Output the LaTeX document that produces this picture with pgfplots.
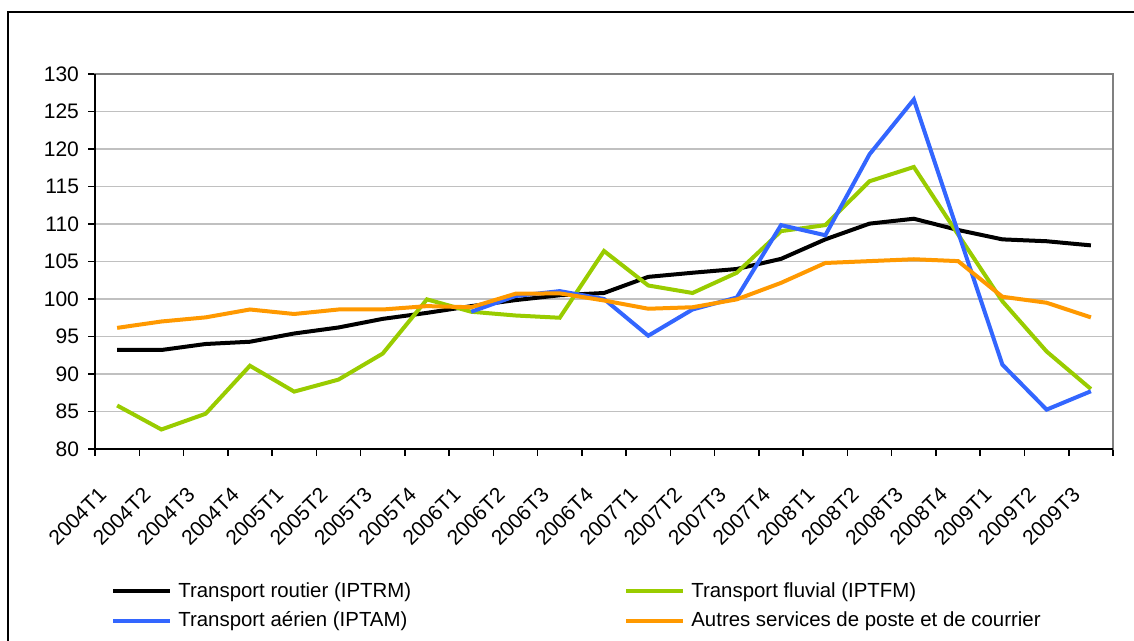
\documentclass[border=0pt]{standalone}
\usepackage{fontspec}
\setmainfont{Liberation Sans}
\usepackage{pgfplots}
\pgfplotsset{compat=1.18}
\definecolor{cgreen}{HTML}{99CC00}
\definecolor{cblue}{HTML}{3366FF}
\definecolor{corange}{HTML}{FF9900}
\definecolor{cgrid}{HTML}{C0C0C0}
\definecolor{cframe}{HTML}{808080}
\begin{document}
\begin{tikzpicture}
\useasboundingbox (-47.5pt,-96pt) rectangle (519.5pt,224.5pt);
\draw[line width=0.75pt] (-43.5pt,-120pt) -- (-43.5pt,218.5pt) -- (540pt,218.5pt);
\begin{axis}[
  at={(0pt,0pt)}, anchor=south west,
  scale only axis, width=509pt, height=187.5pt,
  clip=false,
  xmin=-0.5, xmax=22.5, ymin=80, ymax=130,
  ytick={80,85,...,130},
  xtick={-0.5,0.5,...,22.5},
  xticklabel={\mbox{}},
  extra x ticks={0,1,...,22},
  extra x tick labels={2004T1,2004T2,2004T3,2004T4,2005T1,2005T2,2005T3,2005T4,2006T1,2006T2,2006T3,2006T4,2007T1,2007T2,2007T3,2007T4,2008T1,2008T2,2008T3,2008T4,2009T1,2009T2,2009T3},
  extra x tick style={major tick length=0pt, tick label style={rotate=45, anchor=north east, inner sep=0pt, xshift=-19.9pt, yshift=-5.9pt}},
  tick align=outside,
  tick pos=left,
  major tick length=3.5pt,
  tick style={black, line width=0.75pt},
  ymajorgrids,
  grid style={cgrid, line width=0.75pt},
  axis line style={cframe, line width=0.75pt},
  /pgf/number format/assume math mode=true,
  tick label style={font=\fontsize{10.5}{12}\selectfont},
  yticklabel style={xshift=-1pt},
  legend columns=2,
  legend cell align=left,
  legend style={draw=none, fill=none, inner sep=0pt, at={(0.0157,-0.355)}, anchor=north west,
    font=\fontsize{10.2}{12}\selectfont, row sep=5.8pt,
    nodes={inner sep=0pt},
    /tikz/every odd column/.append style={column sep=3pt},
    /tikz/every even column/.append style={column sep=0pt}},
  legend image code/.code={\draw[#1, line width=2pt] (0pt,0pt) -- (28.5pt,0pt);},
]
\addplot[black, line width=2pt] coordinates {
(0,93.2) (1,93.2) (2,94.0) (3,94.3) (4,95.4) (5,96.2) (6,97.35) (7,98.15)
(8,99.05) (9,99.85) (10,100.5) (11,100.8) (12,102.95) (13,103.5) (14,104.0) (15,105.35)
(16,107.95) (17,110.05) (18,110.7) (19,109.2) (20,107.95) (21,107.7) (22,107.15)};
\addlegendentry{\makebox[223pt][l]{Transport routier (IPTRM)}}
\addplot[cgreen, line width=2pt] coordinates {
(0,85.8) (1,82.6) (2,84.7) (3,91.1) (4,87.65) (5,89.25) (6,92.72) (7,99.95)
(8,98.3) (9,97.8) (10,97.5) (11,106.4) (12,101.8) (13,100.8) (14,103.5) (15,109.05)
(16,109.85) (17,115.7) (18,117.6) (19,108.6) (20,99.7) (21,93.0) (22,88.0)};
\addlegendentry{Transport fluvial (IPTFM)}
\addplot[cblue, line width=2pt] coordinates {
(8,98.3) (9,100.4) (10,101.05) (11,100.0) (12,95.1) (13,98.6) (14,100.2) (15,109.85)
(16,108.5) (17,119.3) (18,126.6) (19,108.9) (20,91.25) (21,85.25) (22,87.7)};
\addlegendentry{\makebox[223pt][l]{Transport aérien (IPTAM)}}
\addplot[corange, line width=2pt] coordinates {
(0,96.15) (1,97.0) (2,97.55) (3,98.6) (4,98.0) (5,98.6) (6,98.6) (7,99.05)
(8,98.9) (9,100.7) (10,100.75) (11,99.8) (12,98.7) (13,98.9) (14,99.95) (15,102.15)
(16,104.8) (17,105.05) (18,105.3) (19,105.05) (20,100.3) (21,99.5) (22,97.55)};
\addlegendentry{Autres services de poste et de courrier}
\draw[black, line width=0.75pt] (rel axis cs:0,1) -- (rel axis cs:0,0) -- (rel axis cs:1,0);
\end{axis}
\end{tikzpicture}
\end{document}
